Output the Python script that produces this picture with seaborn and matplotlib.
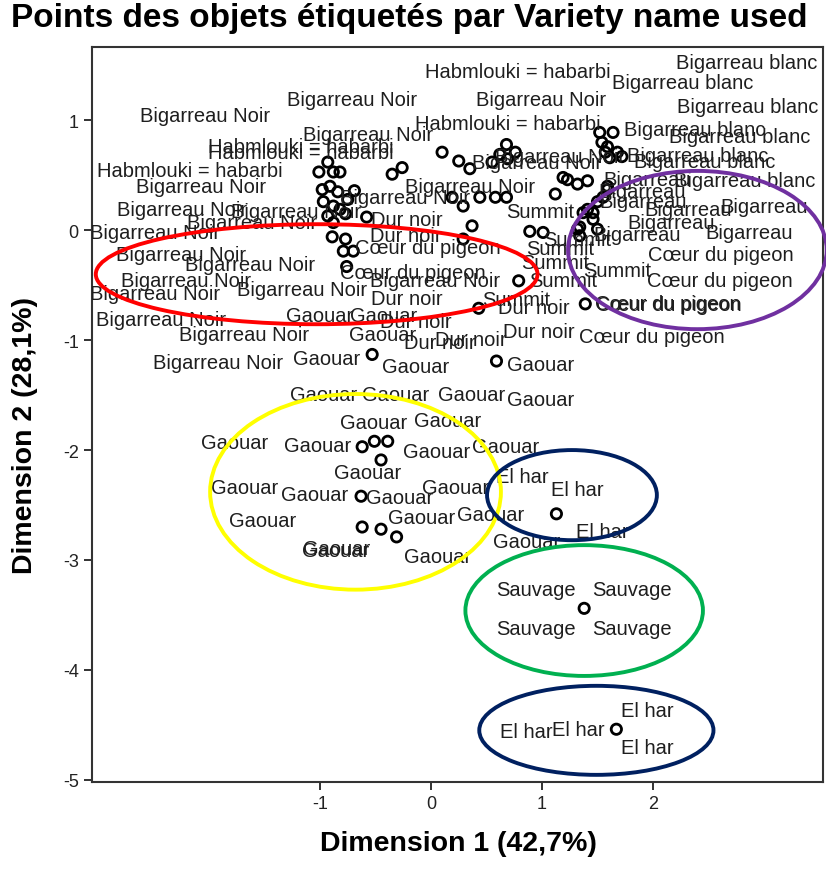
import matplotlib
matplotlib.use("Agg")
import matplotlib.pyplot as plt
from matplotlib.patches import Ellipse
import seaborn as sns
import pandas as pd

# Coordonnees des objets (Dimension 1, Dimension 2)
pt_x = [1.38, 1.67, 1.13,
        -0.62, -0.51, -0.39, -0.45, -0.63, -0.62, -0.45, -0.31,
        -0.53, 0.59, 0.43, 0.79, 1.39, 0.89, 1.01, 1.34,
        -0.89, -0.77, -0.79, -0.70, -0.76,
        -0.93, -1.01, -0.88, -0.82, -0.98, -0.91, -0.84, -0.69, -0.75, -0.97,
        -0.88, -0.82, -0.77, -0.93, -0.88, -0.58, -0.35, -0.26,
        0.10, 0.25, 0.35, 0.55, 0.62, 0.68, 0.76, 0.69, 0.19, 0.29, 0.44,
        0.58, 0.68, 0.37, 0.29, 1.19, 1.12, 1.32, 1.41, 1.32, 1.37, 1.46,
        1.52, 1.64, 1.54, 1.59, 1.57, 1.68, 1.72, 1.61, 1.23, 1.59, 1.55,
        1.50, 1.41, 1.46, 1.34, 1.50, 1.59]
pt_y = [-3.44, -4.54, -2.58,
        -1.97, -1.92, -1.92, -2.09, -2.42, -2.70, -2.72, -2.79,
        -1.13, -1.19, -0.71, -0.46, -0.67, -0.01, -0.02, -0.05,
        -0.06, -0.08, -0.19, -0.19, -0.33,
        0.62, 0.53, 0.53, 0.53, 0.37, 0.40, 0.35, 0.36, 0.28, 0.26,
        0.22, 0.19, 0.15, 0.13, 0.07, 0.12, 0.51, 0.57,
        0.71, 0.63, 0.56, 0.62, 0.69, 0.78, 0.71, 0.65, 0.30, 0.22, 0.30,
        0.30, 0.30, 0.04, -0.08, 0.48, 0.33, 0.42, 0.45, 0.01, 0.16, 0.10,
        0.89, 0.89, 0.80, 0.76, 0.71, 0.71, 0.67, 0.66, 0.46, 0.37, 0.30,
        0.26, 0.19, 0.16, 0.03, 0.01, 0.40]

# Etiquettes (Variety name used) et leur position
lab_text = (["Bigarreau blanc"] * 8 + ["Bigarreau"] * 8 + ["C\u0153ur du pigeon"] * 7
            + ["Summit"] * 7 + ["Dur noir"] * 8 + ["Bigarreau Noir"] * 22
            + ["Habmlouki = habarbi"] * 5 + ["Gaouar"] * 28 + ["El har"] * 7
            + ["Sauvage"] * 4)
lab_x = [2.84, 2.27, 2.85, 2.38, 2.78, 2.40, 2.47, 2.83,
         1.95, 1.90, 1.91, 2.32, 3.00, 2.16, 2.87, 1.86,
         2.61, 2.60, 2.13, 2.14, 1.99, -0.03, -0.16,
         1.68, 1.19, 1.12, 1.16, 0.77, 0.98, 1.32,
         -0.22, -0.14, 0.08, 0.36, 0.93, 0.97, -0.22, -0.23,
         -2.04, -0.71, -0.57, -2.07, -2.24, -2.49, -1.22, -1.61, -0.23, 0.35, 0.96,
         1.16, 0.99, -2.25, -1.63, -2.21, -2.49, -1.16, -2.43, -1.68, -1.92, 0.04,
         -1.17, -1.17, -2.17, 0.78, 0.69,
         -1.00, -0.43, -0.44, -0.94, -0.14, -0.97, -0.32, 0.37, 0.99, 0.99,
         -0.52, 0.15, -1.77, -1.02, 0.05, 0.67, -0.57, -1.68, -1.05, -0.28,
         0.22, 0.54, -1.52, -0.08, -0.86, -0.85, 0.06, 0.86,
         0.82, 1.32, 1.54, 0.86, 1.33, 1.95, 1.95,
         0.95, 1.81, 0.95, 1.81]
lab_y = [1.53, 1.34, 1.13, 0.92, 0.85, 0.68, 0.63, 0.45,
         0.46, 0.35, 0.26, 0.19, 0.22, 0.07, -0.02, -0.04,
         -0.22, -0.46, -0.67, -0.68, -0.97, -0.16, -0.38,
         -0.37, -0.46, -0.29, -0.17, -0.63, 0.17, -0.08,
         -0.62, -0.83, -1.02, -0.99, -0.70, -0.92, 0.10, -0.05,
         1.04, 1.19, 0.87, 0.40, 0.19, -0.02, 0.17, 0.07, 0.30, 0.40, 0.62,
         0.67, 1.19, -0.22, -0.31, -0.46, -0.58, -0.54, -0.81, -0.95, -1.20, -0.46,
         0.76, 0.71, 0.54, 1.44, 0.97,
         -0.78, -0.78, -0.95, -1.17, -1.24, -1.49, -1.49, -1.49, -1.22, -1.54,
         -1.75, -1.73, -1.93, -1.96, -2.01, -1.97, -2.20, -2.34, -2.40, -2.43,
         -2.34, -2.59, -2.64, -2.61, -2.91, -2.90, -2.97, -2.83,
         -2.24, -2.36, -2.74, -4.56, -4.54, -4.37, -4.71,
         -3.27, -3.27, -3.62, -3.62]

# Groupes entoures a la main : (centre x, centre y, largeur, hauteur, couleur)
groups = [(-1.03, -0.40, 3.98, 0.91, "#FF0000"),
          (2.40, -0.18, 2.33, 1.44, "#7030A0"),
          (-0.68, -2.38, 2.62, 1.78, "#FFFF00"),
          (1.27, -2.41, 1.53, 0.82, "#002060"),
          (1.38, -3.46, 2.14, 1.19, "#00B050"),
          (1.49, -4.55, 2.11, 0.81, "#002060")]

sns.set_style("white")
plt.rcParams['font.family'] = ['Liberation Sans', 'DejaVu Sans']
plt.rcParams['axes.unicode_minus'] = False

fig = plt.figure(figsize=(8.26, 8.70), dpi=100)
ax = fig.add_axes([0.1114, 0.1, 0.885, 0.8448])

df = pd.DataFrame({"dim1": pt_x, "dim2": pt_y})
sns.scatterplot(data=df, x="dim1", y="dim2", ax=ax, marker="o", s=55,
                facecolor="none", edgecolor="black", linewidth=2.0, zorder=3)

for t, x, y in zip(lab_text, lab_x, lab_y):
    ax.text(x, y, t, fontsize=14.5, color="#1e1e1e", ha="center", va="center",
            clip_on=True, zorder=4)

for cx, cy, w, h, c in groups:
    ax.add_patch(Ellipse((cx, cy), w, h, fill=False, edgecolor=c, lw=2.8,
                         zorder=5, clip_on=False))

ax.set_xlim(-3.054, 3.532)
ax.set_ylim(-5.02, 1.667)
ax.set_xticks([-1, 0, 1, 2])
ax.set_yticks([1, 0, -1, -2, -3, -4, -5])
ax.tick_params(direction="out", length=6, width=1.3, labelsize=13,
               colors="#222222", bottom=True, left=True)
for sp in ax.spines.values():
    sp.set_color("#333333")
    sp.set_linewidth(1.5)
ax.set_xlabel("")
ax.set_ylabel("")

narrow = ['Liberation Sans Narrow', 'Liberation Sans', 'DejaVu Sans']
fig.text(0.5545, 0.015, "Dimension 1 (42,7%)", fontsize=20.5, fontweight="bold",
         family=narrow, color="black", ha="center", va="bottom")
fig.text(0.014, 0.50, "Dimension 2 (28,1%)", fontsize=20.5, fontweight="bold",
         family=narrow, color="black", ha="left", va="center", rotation=90)
fig.text(0.495, 0.979, "Points des objets \u00e9tiquet\u00e9s par Variety name used",
         fontsize=24, fontweight="bold", color="black", ha="center", va="center")

fig.savefig("out.png", dpi=100)
